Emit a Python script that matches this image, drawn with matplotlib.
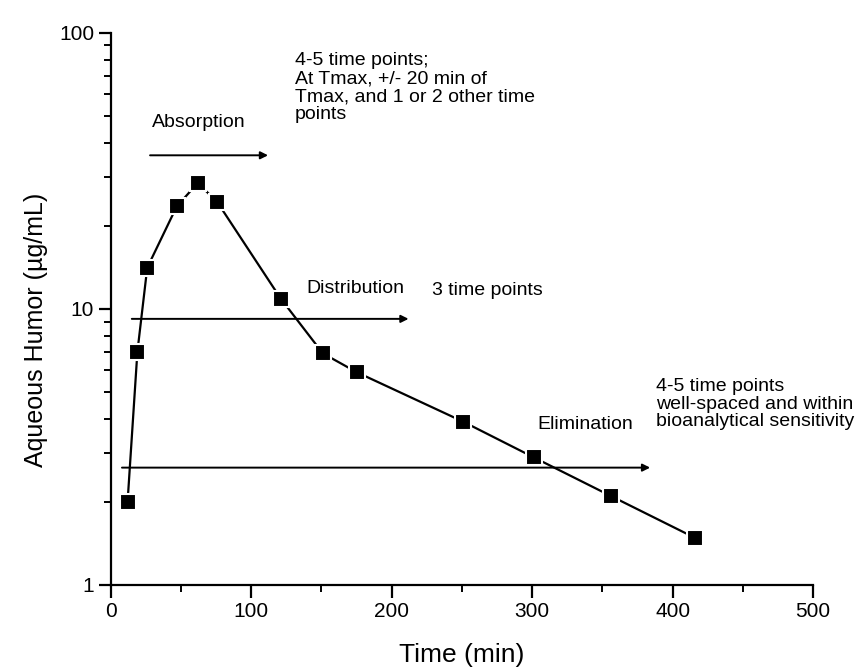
import matplotlib.pyplot as plt
from matplotlib.ticker import FixedLocator, NullFormatter

plt.rcParams["font.family"] = ["Liberation Sans", "DejaVu Sans"]

# aqueous humor concentration profile
time_min = [12, 19, 26, 47, 62, 76, 121, 151, 175, 251, 301, 356, 416]
conc_ug_ml = [2.0, 7.0, 14.1, 23.5, 28.6, 24.3, 10.9, 6.9, 5.9, 3.9, 2.9, 2.1, 1.48]

# phase arrows: (start time, end time, level)
phase_arrows = [
    (28, 112, 36.0),    # absorption
    (15, 212, 9.2),     # distribution
    (8, 384, 2.66),     # elimination
]

x_ticks = [0, 100, 200, 300, 400, 500]
y_ticks = [1, 10, 100]

fig = plt.figure(figsize=(8.65, 6.7), dpi=100)
ax = fig.add_axes([0.128, 0.127, 0.812, 0.824])

ax.plot(time_min, conc_ug_ml, color="black", lw=1.6, marker="s", ms=11,
        mfc="black", mec="white", mew=1.5, zorder=3)

for x0, x1, lvl in phase_arrows:
    ax.annotate("", xy=(x1, lvl), xytext=(x0, lvl),
                arrowprops=dict(arrowstyle="-|>", color="black", lw=1.4,
                                mutation_scale=11, shrinkA=0, shrinkB=0))

note_fs = 14
ax.text(29, 47.5, "Absorption", fontsize=note_fs, va="center", ha="left")
ax.text(131, 85, "4-5 time points;\nAt Tmax, +/- 20 min of\nTmax, and 1 or 2 other time\npoints",
        fontsize=note_fs, va="top", ha="left", linespacing=1.07)
ax.text(139, 11.9, "Distribution", fontsize=note_fs, va="center", ha="left")
ax.text(229, 11.7, "3 time points", fontsize=note_fs, va="center", ha="left")
ax.text(304, 3.8, "Elimination", fontsize=note_fs, va="center", ha="left")
ax.text(388, 5.6, "4-5 time points\nwell-spaced and within\nbioanalytical sensitivity",
        fontsize=note_fs, va="top", ha="left", linespacing=1.03)

ax.set_yscale("log")
ax.set_xlim(0, 500)
ax.set_ylim(1, 100)
ax.set_xticks(x_ticks)
ax.xaxis.set_minor_locator(FixedLocator([50, 150, 250, 350, 450]))
ax.set_yticks(y_ticks)
ax.set_yticklabels([str(v) for v in y_ticks])
ax.yaxis.set_minor_formatter(NullFormatter())

for side in ("top", "right"):
    ax.spines[side].set_visible(False)
for side in ("left", "bottom"):
    ax.spines[side].set_linewidth(1.6)

ax.tick_params(which="major", direction="out", length=9, width=1.6, labelsize=15, pad=3)
ax.tick_params(which="minor", direction="out", length=5, width=1.4)

ax.set_xlabel("Time (min)", fontsize=19)
ax.set_ylabel("Aqueous Humor (\u00b5g/mL)", fontsize=18)
ax.xaxis.set_label_coords(0.5, -0.105)
ax.yaxis.set_label_coords(-0.09, 0.462)

fig.savefig("out.png", dpi=100)
